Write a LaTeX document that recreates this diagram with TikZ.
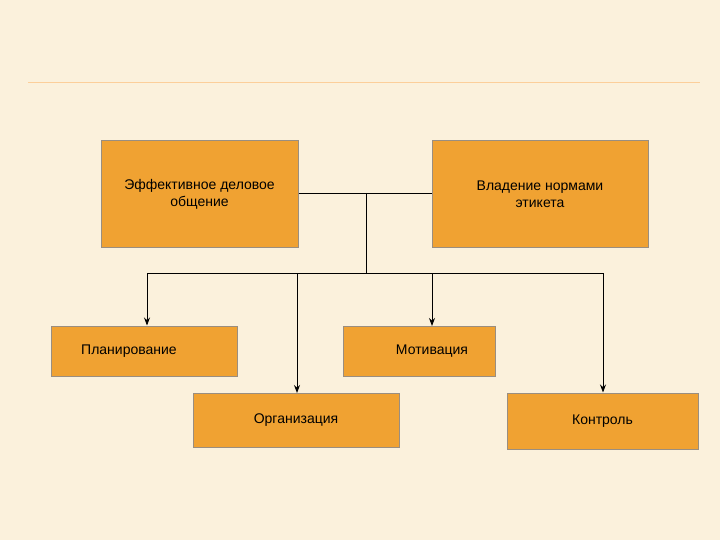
\documentclass[tikz,border=0pt]{standalone}
\usepackage{fontspec}
\setmainfont{Liberation Sans}
\usetikzlibrary{arrows.meta}
\definecolor{bg}{HTML}{FBF1DC}
\definecolor{boxfill}{HTML}{F0A232}
\definecolor{boxline}{HTML}{9A8E80}
\tikzset{
  box/.style={draw=boxline, line width=1pt, fill=boxfill, inner sep=0pt, font=\fontsize{14}{17}\selectfont, align=center},
  conn/.style={line width=0.9pt, black},
  arr/.style={conn, -{Stealth[length=8pt,width=6pt]}}
}
\begin{document}
\begin{tikzpicture}[x=1pt,y=-1pt]
\fill[bg] (0,0) rectangle (720,540);
\useasboundingbox (0,0) rectangle (720,540);
\draw[color=orange!30!bg, line width=1pt] (28,83) -- (700,83);
\node[box, minimum width=197pt, minimum height=106pt] (e) at (199.5,194) {Эффективное деловое\\общение};
\node[box, minimum width=216pt, minimum height=106pt] (v) at (540,194) {Владение нормами\\этикета};
\node[box, minimum width=186pt, minimum height=50pt] (p) at (144,351) {\hspace*{-30pt}Планирование};
\node[box, minimum width=152pt, minimum height=50pt] (m) at (419,351) {\hspace*{26pt}Мотивация};
\node[box, minimum width=206pt, minimum height=54pt] (o) at (296,420) {Организация};
\node[box, minimum width=191pt, minimum height=56pt] (k) at (602.5,421) {Контроль};
\coordinate (j) at (366,193);
\coordinate (h) at (366,273);
\coordinate (hl) at (147,273);
\coordinate (hr) at (603,273);
\draw[conn] (e.east|-j) -- (v.west|-j);
\draw[conn] (j) -- (h);
\draw[conn] (hl) -- (hr);
\draw[arr] (hl) -- (hl|-p.north);
\draw[arr] (297,273) -- (297,393) coordinate (ot);
\draw[arr] (432,273) -- (432,326);
\draw[arr] (hr) -- (hr|-k.north);
\end{tikzpicture}
\end{document}
